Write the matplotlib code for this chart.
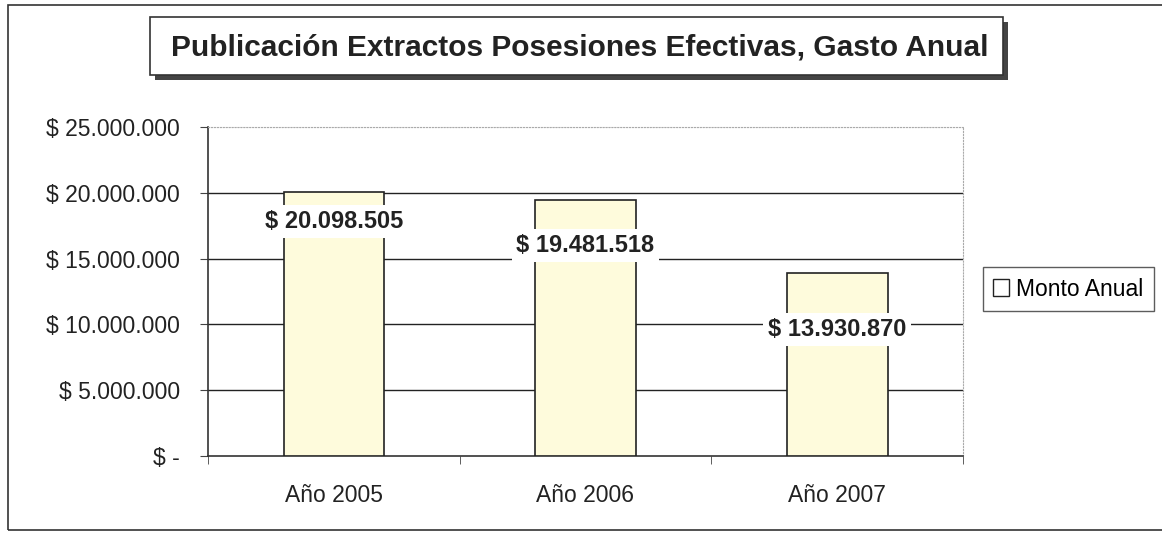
import matplotlib.pyplot as plt
from matplotlib.patches import Rectangle
from matplotlib.ticker import FuncFormatter, FixedLocator

plt.rcParams['font.family'] = ['Liberation Sans', 'DejaVu Sans']

# data
categories = ['Año 2005', 'Año 2006', 'Año 2007']
monto_anual = [20098505, 19481518, 13930870]
value_labels = ['$ 20.098.505', '$ 19.481.518', '$ 13.930.870']
y_ticks = [0, 5000000, 10000000, 15000000, 20000000, 25000000]

bar_color = '#fefbdc'
label_offsets = [-30, -46, -57]  # pixels below bar top, as placed in the original

fig = plt.figure(figsize=(11.62, 5.34), dpi=100)
W, H = 1162, 534


def fig_rect(x0, y0, x1, y1, **kw):
    # rectangle in pixel coords measured from the top-left
    r = Rectangle((x0 / W, 1 - y1 / H), (x1 - x0) / W, (y1 - y0) / H,
                  transform=fig.transFigure, **kw)
    fig.add_artist(r)


# outer chart frame
fig_rect(8, 5, 1170, 530, fill=False, edgecolor='#333333', linewidth=1.2)

# title box with shadow
fig_rect(155, 22, 1008, 80, facecolor='#444444', edgecolor='none')
fig_rect(150, 17, 1003, 75, facecolor='white', edgecolor='#333333', linewidth=1.2)
fig.text(580 / W, 1 - 47 / H, 'Publicación Extractos Posesiones Efectivas, Gasto Anual',
         ha='center', va='center', fontsize=21.5, fontweight='bold', color='#222222')

ax = fig.add_axes([208 / W, 78 / H, 755 / W, 329 / H])
x = list(range(len(categories)))
bars = ax.bar(x, monto_anual, width=0.4, color=bar_color, edgecolor='#222222',
              linewidth=1.2, label='Monto Anual', zorder=3)

ax.set_xlim(-0.5, 2.5)
ax.set_ylim(0, 25000000)
ax.set_yticks(y_ticks)
ax.yaxis.set_major_formatter(FuncFormatter(
    lambda v, p: '$ -' if v == 0 else '$ ' + f'{int(v):,}'.replace(',', '.')))

for yv in y_ticks[1:-1]:
    ax.axhline(yv, color='#222222', linewidth=1.0, zorder=1)
ax.axhline(y_ticks[-1], color='#999999', linewidth=0.8, linestyle=':', zorder=1)

ax.set_xticks(x)
ax.set_xticklabels(categories)
ax.xaxis.set_minor_locator(FixedLocator([-0.5, 0.5, 1.5, 2.5]))
ax.tick_params(axis='x', which='major', length=0, pad=20, labelsize=16.5, colors='#222222')
ax.tick_params(axis='x', which='minor', length=6, direction='out', color='#444444')
ax.tick_params(axis='y', length=6, direction='out', pad=14, labelsize=16.5,
               color='#444444', labelcolor='#222222')

for s in ['top', 'right']:
    ax.spines[s].set_color('#aaaaaa')
    ax.spines[s].set_linestyle(':')
    ax.spines[s].set_linewidth(0.8)
for s in ['left', 'bottom']:
    ax.spines[s].set_color('#333333')
    ax.spines[s].set_linewidth(1.2)

for i, v in enumerate(monto_anual):
    ax.annotate(value_labels[i], (x[i], v), xytext=(0, label_offsets[i]),
                textcoords='offset pixels', ha='center', va='center',
                fontsize=17, fontweight='bold', color='#222222', zorder=5,
                bbox=dict(boxstyle='square,pad=0.2', facecolor='white', edgecolor='none'))

leg = fig.legend(handles=[Rectangle((0, 0), 1, 1, facecolor='white', edgecolor='#222222')],
                 labels=['Monto Anual'], loc='center left',
                 bbox_to_anchor=(983 / W, 1 - 289 / H), fontsize=16.5, frameon=True,
                 fancybox=False, edgecolor='#333333', handlelength=0.7, handleheight=0.7,
                 handletextpad=0.3, borderpad=0.45, borderaxespad=0)
leg.get_frame().set_linewidth(1.0)

fig.savefig('out.png', dpi=100)
